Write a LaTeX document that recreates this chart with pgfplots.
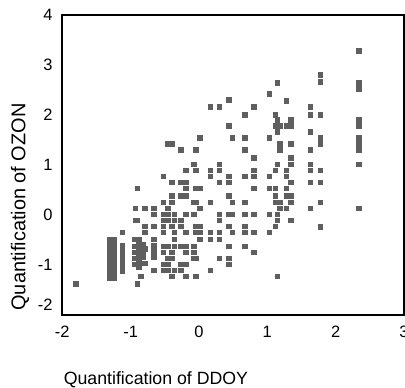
\documentclass[border=0pt]{standalone}
\usepackage{pgfplots}
\pgfplotsset{compat=1.18}
\usepackage{fontspec}
\setmainfont{Liberation Sans}
\definecolor{markgray}{RGB}{95,95,95}
\begin{document}
\begin{tikzpicture}
\begin{axis}[
  at={(0,0)}, anchor=south west,
  scale only axis, width=341.7bp, height=300.3bp,
  xmin=-2, xmax=3, ymin=-2, ymax=4,
  xtick={-2,-1,0,1,2,3}, xticklabels={-2,-1,0,1,2,3},
  ytick={-1,0,1,2,3,4}, yticklabels={-1,0,1,2,3,4},
  extra y ticks={-2}, extra y tick labels={-2},
  extra y tick style={yticklabel style={yshift=10bp}},
  major tick length=0pt,
  line width=1.6bp,
  axis line style={line width=1.6bp, black},
  tick label style={font=\fontsize{16.5}{18}\selectfont},
  xticklabel style={anchor=north, inner sep=0pt, yshift=-10bp},
  yticklabel style={anchor=east, inner sep=0pt, xshift=-9bp},
  xlabel={Quantification of DDOY},
  xlabel style={at={(axis description cs:0.002,-0.233)}, anchor=base west, inner sep=0pt, font=\fontsize{17.8}{20}\selectfont},
  ylabel={Quantification of OZON},
  ylabel style={at={(axis description cs:-0.1238,0.3596)}, anchor=center, inner sep=0pt, font=\fontsize{20}{24}\selectfont},
  clip=false,
]
\addplot[only marks, mark=square*, mark size=2.35bp, line width=0pt, mark options={draw=markgray, fill=markgray, line width=0pt}] table {
x y
-1.80 -1.38
-1.30 -0.50
-1.30 -0.58
-1.30 -0.66
-1.30 -0.74
-1.30 -0.82
-1.30 -0.90
-1.30 -0.98
-1.30 -1.06
-1.30 -1.14
-1.30 -1.22
-1.30 -1.27
-1.24 -0.50
-1.24 -0.62
-1.24 -0.72
-1.24 -0.82
-1.24 -0.92
-1.24 -1.02
-1.24 -1.12
-1.24 -1.22
-1.24 -1.27
-1.12 -0.35
-1.12 -0.61
-1.12 -0.70
-1.12 -0.79
-1.12 -0.88
-1.12 -0.97
-1.12 -1.06
-1.12 -1.12
-0.90 0.53
-0.93 0.13
-0.93 -0.11
-0.90 -0.11
-0.90 -1.38
-0.94 -0.49
-0.94 -0.63
-0.94 -0.75
-0.94 -0.87
-0.94 -0.99
-0.88 -0.49
-0.88 -0.58
-0.88 -0.70
-0.88 -0.80
-0.88 -0.92
-0.88 -1.04
-0.82 -0.60
-0.82 -0.75
-0.82 -0.85
-0.82 -0.97
-0.85 -1.23
-0.79 0.13
-0.79 -0.23
-0.79 -0.35
-0.79 -0.68
-0.79 -0.97
-0.66 0.13
-0.66 0.01
-0.66 -0.23
-0.66 -0.49
-0.66 -0.61
-0.66 -0.72
-0.66 -0.84
-0.66 -1.11
-0.52 0.77
-0.52 0.25
-0.52 0.01
-0.52 -0.11
-0.52 -0.23
-0.52 -0.35
-0.52 -0.63
-0.52 -0.75
-0.52 -0.99
-0.52 -1.11
-0.45 1.41
-0.45 0.13
-0.45 0.01
-0.45 -0.11
-0.45 -0.63
-0.45 -0.87
-0.45 -0.99
-0.45 -1.11
-0.39 1.41
-0.39 0.65
-0.39 0.38
-0.39 0.25
-0.39 -0.23
-0.39 -0.75
-0.39 -0.87
-0.39 -1.23
-0.36 0.01
-0.36 -0.11
-0.36 -0.35
-0.36 -0.49
-0.36 -0.63
-0.36 -1.11
-0.26 1.29
-0.26 0.65
-0.26 0.38
-0.26 -0.11
-0.26 -0.23
-0.26 -0.63
-0.26 -0.99
-0.26 -1.11
-0.19 0.89
-0.19 0.65
-0.19 0.53
-0.19 0.38
-0.19 0.01
-0.19 -0.35
-0.19 -0.63
-0.19 -0.75
-0.19 -0.99
-0.19 -1.23
-0.07 1.01
-0.07 0.25
-0.07 0.01
-0.07 -0.63
-0.07 -0.75
-0.07 -0.87
-0.04 1.29
-0.04 0.89
-0.04 0.53
-0.04 0.25
-0.04 -0.23
-0.04 -0.35
-0.04 -0.87
-0.04 -1.23
0.01 1.53
0.01 0.53
0.01 0.13
0.01 -0.23
0.01 -0.35
0.01 -0.49
0.17 2.16
0.17 0.89
0.17 0.77
0.17 0.25
0.17 -0.35
0.17 -0.49
0.17 -1.11
0.30 2.16
0.30 1.01
0.30 0.89
0.30 0.65
0.30 0.01
0.30 -0.11
0.30 -0.35
0.30 -0.49
0.30 -0.87
0.44 2.29
0.44 1.77
0.44 0.77
0.44 0.65
0.44 0.38
0.44 0.01
0.44 -0.23
0.44 -0.63
0.44 -0.87
0.44 -0.99
0.49 1.53
0.49 0.25
0.49 0.01
0.49 -0.35
0.67 2.00
0.67 1.53
0.67 1.29
0.67 0.77
0.67 0.25
0.67 0.01
0.67 -0.23
0.67 -0.35
0.67 -0.63
0.80 2.16
0.80 1.13
0.80 0.89
0.80 0.77
0.80 0.53
0.80 0.01
0.80 -0.35
0.80 -0.75
1.03 2.41
1.03 1.53
1.03 0.77
1.03 0.53
1.03 0.01
1.03 -0.35
1.12 2.00
1.12 1.77
1.12 0.89
1.12 0.53
1.12 0.38
1.12 0.25
1.12 -0.23
1.15 2.64
1.15 1.89
1.15 1.65
1.15 1.01
1.15 0.01
1.15 -0.11
1.15 -1.23
1.19 1.77
1.19 1.41
1.19 1.29
1.19 0.25
1.19 0.13
1.28 2.28
1.28 1.77
1.28 0.89
1.28 0.77
1.28 0.53
1.28 0.38
1.28 0.13
1.35 1.89
1.35 1.77
1.35 1.41
1.35 1.13
1.35 1.01
1.35 0.65
1.35 0.38
1.35 0.25
1.35 -0.11
1.63 2.16
1.63 2.00
1.63 1.65
1.63 1.29
1.63 1.01
1.63 0.89
1.63 0.65
1.63 0.13
1.78 2.79
1.78 2.65
1.78 2.00
1.78 1.53
1.78 1.41
1.78 0.89
1.78 0.65
1.78 0.25
1.78 -0.24
2.34 3.28
2.34 2.64
2.34 2.51
2.34 1.89
2.34 1.77
2.34 1.53
2.34 1.41
2.34 1.29
2.34 1.01
2.34 0.13
};
\end{axis}
\pgfresetboundingbox
\path (-62.3bp,-73bp) rectangle (342.7bp,315bp);
\end{tikzpicture}
\end{document}
